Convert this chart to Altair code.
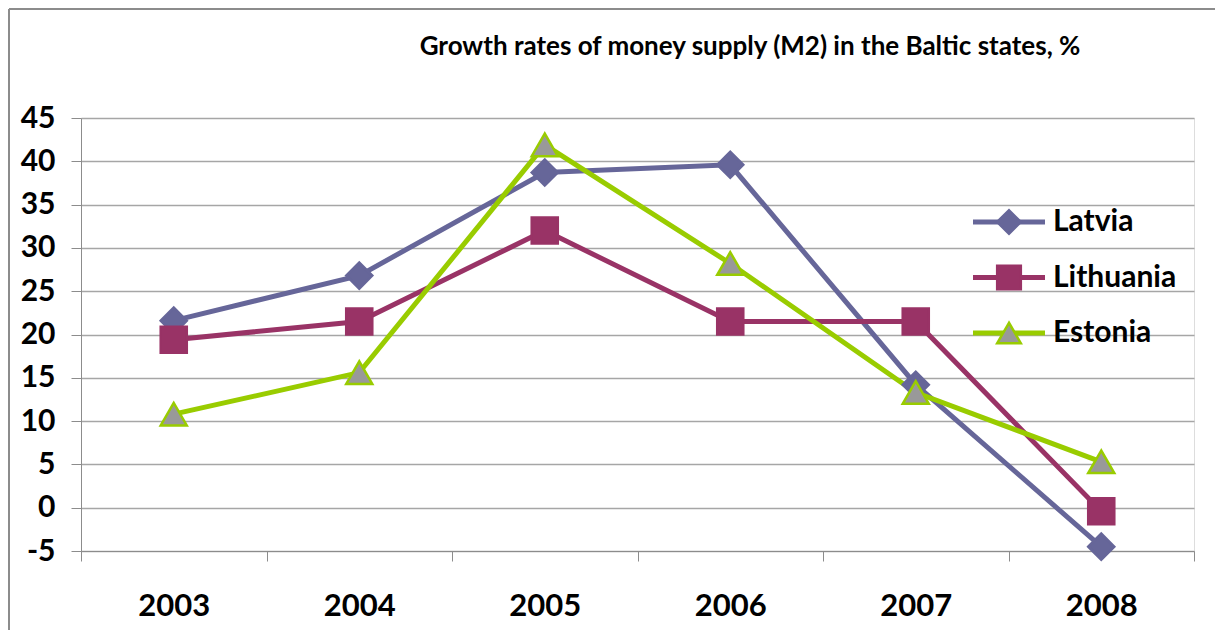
import altair as alt
import pandas as pd

years = ["2003", "2004", "2005", "2006", "2007", "2008"]
series = ["Latvia", "Lithuania", "Estonia"]
latvia = [21.6, 26.8, 38.7, 39.6, 14.2, -4.5]
lithuania = [19.4, 21.5, 32.0, 21.5, 21.5, -0.4]
estonia = [10.8, 15.6, 41.9, 28.2, 13.3, 5.3]
title_text = "Growth rates of money supply (M2) in the Baltic states, %"

line_colors = ["#666699", "#993366", "#99CC00"]
fill_colors = ["#666699", "#993366", "#999999"]
shapes = ["diamond", "square", "triangle-up"]

rows = []
for name, vals in zip(series, [latvia, lithuania, estonia]):
    for y, v in zip(years, vals):
        rows.append({"year": y, "series": name, "value": v})
df = pd.DataFrame(rows)

W, H = 1113, 433
FONT = "Lato"

x_enc = alt.X("year:O", sort=years,
              scale=alt.Scale(type="band", paddingInner=0, paddingOuter=0),
              axis=alt.Axis(title=None, labelAngle=0, tickBand="extent", tickSize=10,
                            labelPadding=30, labelFontSize=31, labelFont=FONT,
                            labelFontWeight="bold", labelColor="black",
                            domainColor="#8c8c8c", tickColor="#8c8c8c", grid=False))
y_enc = alt.Y("value:Q", scale=alt.Scale(domain=[-5, 45], nice=False, zero=False),
              axis=alt.Axis(title=None, values=list(range(-5, 50, 5)), tickSize=10,
                            labelExpr="'' + datum.value",
                            labelPadding=16, labelFontSize=30, labelFont=FONT,
                            labelFontWeight="bold", labelColor="black",
                            domainColor="#8c8c8c", tickColor="#8c8c8c",
                            gridColor="#a6a6a6", gridWidth=1.3))

lines = alt.Chart(df).mark_line(strokeWidth=5).encode(
    x=x_enc, y=y_enc,
    color=alt.Color("series:N", scale=alt.Scale(domain=series, range=line_colors), legend=None),
)

points = alt.Chart(df).mark_point(filled=True, size=680, strokeWidth=2.5, opacity=1).encode(
    x=alt.X("year:O", sort=years), y="value:Q",
    fill=alt.Fill("series:N", scale=alt.Scale(domain=series, range=fill_colors), legend=None),
    stroke=alt.Stroke("series:N", scale=alt.Scale(domain=series, range=line_colors), legend=None),
    shape=alt.Shape("series:N", scale=alt.Scale(domain=series, range=shapes), legend=None),
)

# manual legend (line + marker + label), laid out from the series list
leg_df = pd.DataFrame({"series": series, "ly": [104 + 55.5 * i for i in range(len(series))]})
leg_line = alt.Chart(leg_df).mark_rule(strokeWidth=5).encode(
    x=alt.value(892), x2=alt.value(964),
    y=alt.Y("ly:Q", scale=None),
    color=alt.Color("series:N", scale=alt.Scale(domain=series, range=line_colors), legend=None),
)
leg_pt = alt.Chart(leg_df).mark_point(filled=True, size=560, strokeWidth=2.5, opacity=1).encode(
    x=alt.value(928), y=alt.Y("ly:Q", scale=None),
    fill=alt.Fill("series:N", scale=alt.Scale(domain=series, range=fill_colors), legend=None),
    stroke=alt.Stroke("series:N", scale=alt.Scale(domain=series, range=line_colors), legend=None),
    shape=alt.Shape("series:N", scale=alt.Scale(domain=series, range=shapes), legend=None),
)
leg_txt = alt.Chart(leg_df).mark_text(align="left", baseline="middle", font=FONT,
                                      fontWeight="bold", fontSize=30, color="black").encode(
    x=alt.value(972), y=alt.Y("ly:Q", scale=None), text="series:N",
)

title = alt.Chart(pd.DataFrame({"t": [title_text]})).mark_text(
    align="center", baseline="middle", font=FONT, fontWeight="bold", fontSize=26,
    color="black").encode(x=alt.value(669), y=alt.value(-71), text="t:N")

one = pd.DataFrame({"a": [0]})
border_top = alt.Chart(one).mark_rule(stroke="#8c8c8c", strokeWidth=2).encode(
    x=alt.value(-72), x2=alt.value(1200), y=alt.value(-109))
border_left = alt.Chart(one).mark_rule(stroke="#8c8c8c", strokeWidth=2).encode(
    x=alt.value(-72), y=alt.value(-109), y2=alt.value(600))

chart = alt.layer(border_top, border_left, title, lines, points,
                  leg_line, leg_pt, leg_txt).properties(
    width=W, height=H,
    autosize=alt.AutoSizeParams(type="none"),
    padding={"left": 73, "top": 110, "right": 21, "bottom": 79},
).configure_view(stroke=None).configure(background="white")

chart.save("out.html", embed_options={"renderer": "svg", "actions": False})
